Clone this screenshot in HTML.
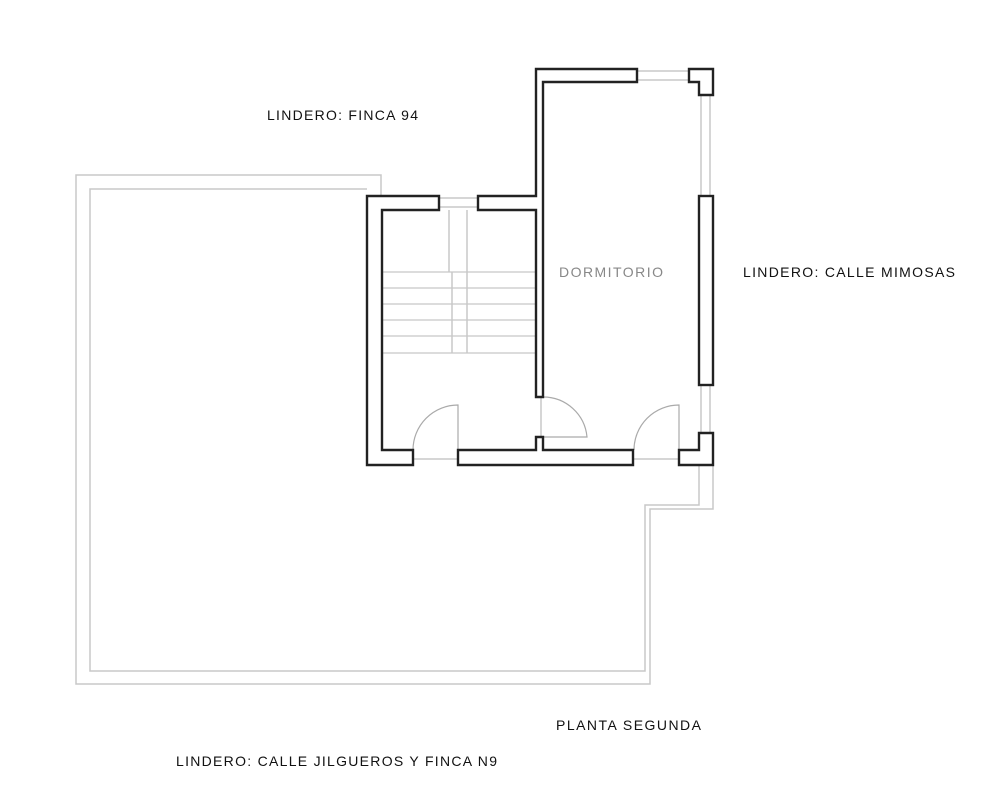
<!DOCTYPE html>
<html><head><style>body{margin:0;background:#fff}svg{display:block}</style></head><body>
<svg width="1000" height="800" viewBox="0 0 1000 800" xmlns="http://www.w3.org/2000/svg" font-family="Liberation Sans, sans-serif">
<rect width="1000" height="800" fill="#fff"/>
<g fill="none" stroke="#c8c8c8" stroke-width="1.5">
<polyline points="381,196 381,175 76,175 76,684 650,684 650,509 713,509 713,465"/>
<polyline points="367,189 90,189 90,671 645,671 645,505 699,505 699,465"/>
<line x1="637" y1="71" x2="689" y2="71"/><line x1="637" y1="80" x2="689" y2="80"/>
<line x1="701" y1="95" x2="701" y2="196"/><line x1="710" y1="95" x2="710" y2="196"/>
<line x1="701" y1="385" x2="701" y2="433"/><line x1="710" y1="385" x2="710" y2="433"/>
<line x1="439" y1="198" x2="478" y2="198"/><line x1="439" y1="207" x2="478" y2="207"/>
<line x1="449" y1="210" x2="449" y2="272"/><line x1="467" y1="210" x2="467" y2="353"/>
<line x1="452" y1="272" x2="452" y2="353"/>
<g stroke-width="1.2">
<line x1="382" y1="272" x2="536" y2="272"/><line x1="382" y1="288" x2="536" y2="288"/>
<line x1="382" y1="304" x2="536" y2="304"/><line x1="382" y1="320" x2="536" y2="320"/>
<line x1="382" y1="336" x2="536" y2="336"/><line x1="382" y1="353" x2="536" y2="353"/>
</g>
<line x1="413" y1="459" x2="458" y2="459"/><line x1="633" y1="459" x2="679" y2="459"/>
<line x1="541" y1="397" x2="541" y2="437"/>
</g>
<g fill="none" stroke="#aaa" stroke-width="1.2">
<path d="M413,450 A45,45 0 0 1 458,405 L458,450"/>
<path d="M543,397 A44,44 0 0 1 587,437 L543,437"/>
<path d="M634,450 A45,45 0 0 1 679,405 L679,450"/>
</g>
<g fill="#fff" stroke="#222" stroke-width="2.4">
<polygon points="367,196 439,196 439,210 382,210 382,450 413,450 413,465 367,465"/>
<polygon points="478,196 536,196 536,69 637,69 637,82 543,82 543,397 536,397 536,210 478,210"/>
<polygon points="689,69 713,69 713,95 699,95 699,82 689,82"/>
<rect x="699" y="196" width="14" height="189"/>
<polygon points="699,433 713,433 713,465 679,465 679,450 699,450"/>
<polygon points="458,450 536,450 536,437 543,437 543,450 633,450 633,465 458,465"/>
</g>
<g font-size="14" fill="#111">
<text x="267" y="120" textLength="151" lengthAdjust="spacing">LINDERO: FINCA 94</text>
<text x="743" y="277" textLength="212" lengthAdjust="spacing">LINDERO: CALLE MIMOSAS</text>
<text x="556" y="730" textLength="145" lengthAdjust="spacing">PLANTA SEGUNDA</text>
<text x="176" y="766" textLength="321" lengthAdjust="spacing">LINDERO: CALLE JILGUEROS Y FINCA N9</text>
</g>
<text x="559" y="277" font-size="14" fill="#888" textLength="104" lengthAdjust="spacing">DORMITORIO</text>
</svg>
</body></html>
